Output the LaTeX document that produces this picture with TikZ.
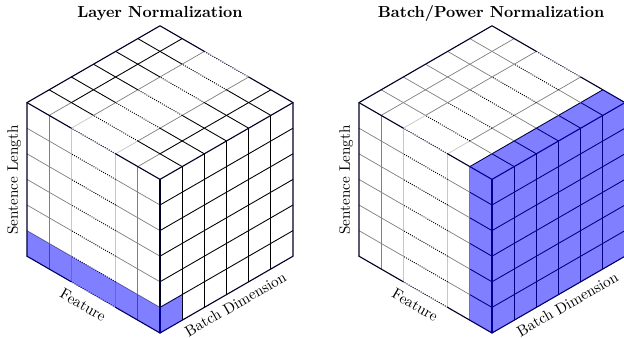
\documentclass[tikz,border=0pt]{standalone}
\usetikzlibrary{calc}
\begin{document}
\begin{tikzpicture}[
  gm/.style={draw=black!50, line width=0.45pt},
  gl/.style={draw=black!22, line width=0.45pt},
  bk/.style={draw=black, line width=0.55pt},
  dt/.style={draw=black, line width=0.6pt, dash pattern=on 0.6pt off 0.8pt},
  cedge/.style={draw=black!85!blue, line width=0.7pt, line cap=round, line join=round},
  cedgedot/.style={draw=black!85!blue, line width=0.65pt, dash pattern=on 0.65pt off 0.8pt},
  hl/.style={fill=blue, fill opacity=0.5, draw=none},
  ttl/.style={font=\bfseries, inner sep=0pt},
  lbl/.style={font=\fontsize{9.5}{11}\selectfont, inner sep=0pt},
]
\useasboundingbox (0,0) rectangle (390pt,211.25pt);

\newcommand\mycube[2]{%
  % left face verticals
  \draw[gm] (1,0,0) -- (1,6,0);
  \draw[gm] (5,0,0) -- (5,6,0);
  \draw[gl] (2,0,0) -- (2,6,0);
  \draw[gl] (4,0,0) -- (4,6,0);
  % left face horizontals
  \foreach \y in {1,...,5} {
    \draw[#1] (0,\y,0) -- (1,\y,0);
    \draw[gm] (1,\y,0) -- (2,\y,0);
    \draw[dt] (2,\y,0) -- (4,\y,0);
    \draw[gm] (4,\y,0) -- (6,\y,0);
  }
  % top face, lines of constant feature
  \draw[#1] (1,6,0) -- (1,6,1);
  \draw[bk] (1,6,1) -- (1,6,6);
  \draw[gm] (5,6,0) -- (5,6,1);
  \draw[#2] (5,6,1) -- (5,6,6);
  \foreach \f in {2,4} {
    \draw[gl] (\f,6,0) -- (\f,6,1);
    \draw[gm] (\f,6,1) -- (\f,6,6);
  }
  % top face, lines of constant batch
  \foreach \b in {1,...,5} {
    \draw[bk] (0,6,\b) -- (1,6,\b);
    \draw[#2] (1,6,\b) -- (2,6,\b);
    \draw[dt] (2,6,\b) -- (4,6,\b);
    \draw[#2] (4,6,\b) -- (6,6,\b);
  }
  % right face
  \foreach \k in {1,...,5} {
    \draw[bk] (0,0,\k) -- (0,6,\k);
    \draw[bk] (0,\k,0) -- (0,\k,6);
  }
  % outer edges
  \draw[cedge] (0,0,0) -- (0,6,0);
  \draw[cedge] (6,0,0) -- (6,6,0) -- (6,6,6) -- (4,6,6);
  \draw[cedgedot] (4,6,6) -- (2,6,6);
  \draw[cedge] (2,6,6) -- (0,6,6) -- (0,0,6) -- (0,0,0) -- (2,0,0);
  \draw[cedgedot] (2,0,0) -- (4,0,0);
  \draw[cedge] (4,0,0) -- (6,0,0);
  \draw[cedge] (0,6,6) -- (0,6,0) -- (2,6,0);
  \draw[cedgedot] (2,6,0) -- (4,6,0);
  \draw[cedge] (4,6,0) -- (6,6,0);
}

% ---------- Layer Normalization ----------
\begin{scope}[shift={(100pt,3.125pt)}, x={(-13.856pt,8pt)}, y={(0pt,16pt)}, z={(13.856pt,8pt)}]
  \mycube{gm}{bk}
  \fill[hl] (0,0,0) -- (6,0,0) -- (6,1,0) -- (0,1,0) -- cycle;
  \fill[hl] (0,0,0) -- (0,0,1) -- (0,1,1) -- (0,1,0) -- cycle;
  \node[lbl, rotate=90] (sl1) at (6.58,2.69,0) {Sentence Length};
  \node[lbl, rotate=-30] (ft1) at (3.47,-0.64,0) {Feature};
  \node[lbl, rotate=30] (bd1) at (0,-0.57,3.4) {Batch Dimension};
\end{scope}
\node[ttl] (t1) at (100pt,202.5pt) {Layer Normalization};

% ---------- Batch/Power Normalization ----------
\begin{scope}[shift={(307.5pt,3.125pt)}, x={(-13.856pt,8pt)}, y={(0pt,16pt)}, z={(13.856pt,8pt)}]
  \mycube{bk}{gm}
  \fill[hl] (0,0,0) -- (0,0,6) -- (0,6,6) -- (0,6,0) -- cycle;
  \fill[hl] (0,6,0) -- (1,6,0) -- (1,6,6) -- (0,6,6) -- cycle;
  \fill[hl] (0,0,0) -- (1,0,0) -- (1,6,0) -- (0,6,0) -- cycle;
  \node[lbl, rotate=90] (sl2) at (6.58,2.69,0) {Sentence Length};
  \node[lbl, rotate=-30] (ft2) at (3.47,-0.64,0) {Feature};
  \node[lbl, rotate=30] (bd2) at (0,-0.57,3.4) {Batch Dimension};
\end{scope}
\node[ttl] (t2) at (306.9pt,202.5pt) {Batch/Power Normalization};
\end{tikzpicture}
\end{document}
